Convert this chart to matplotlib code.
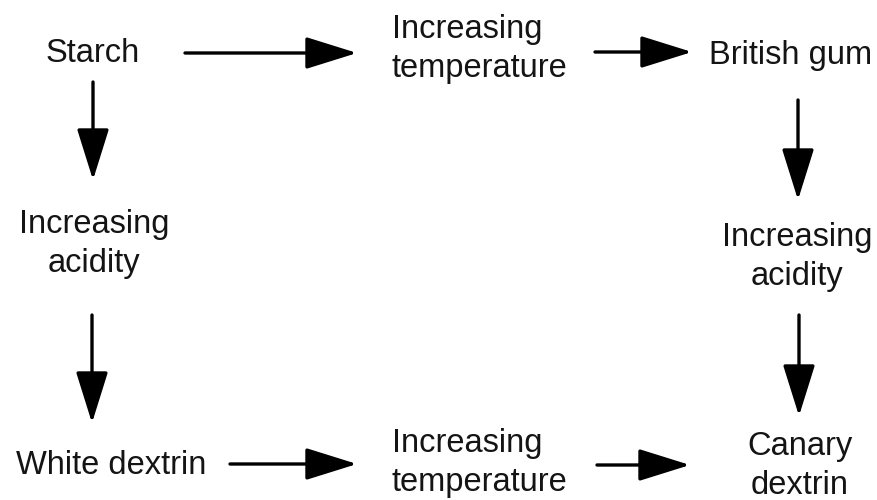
import matplotlib
matplotlib.use("Agg")
import matplotlib.pyplot as plt

# ---- data: node labels of the flow diagram ----
node_names = ["starch", "temp_top", "british", "acid_left", "acid_right",
              "white", "temp_bottom", "canary"]
node_labels = ["Starch", "Increasing\ntemperature", "British gum",
               "Increasing\nacidity", "Increasing\nacidity",
               "White dextrin", "Increasing\ntemperature", "Canary\ndextrin"]
# directed edges of the flow (from -> to)
edges = [("starch", "temp_top"), ("temp_top", "british"),
         ("starch", "acid_left"), ("british", "acid_right"),
         ("acid_left", "white"), ("acid_right", "canary"),
         ("white", "temp_bottom"), ("temp_bottom", "canary")]

# ---- layout (pixel coordinates, y downward; baseline of last line) ----
layout = {
    "starch":      (92.5, 62, "center"),
    "temp_top":    (392, 77, "left"),
    "british":     (791, 64, "center"),
    "acid_left":   (94, 272, "center"),
    "acid_right":  (797, 285, "center"),
    "white":       (111, 474, "center"),
    "temp_bottom": (392, 491, "left"),
    "canary":      (800, 494, "center"),
}
arrow_geom = {
    ("starch", "temp_top"):     ((185, 53), (357, 53)),
    ("temp_top", "british"):    ((595, 52), (692, 52)),
    ("starch", "acid_left"):    ((93, 82), (93, 180)),
    ("british", "acid_right"):  ((798, 100), (798, 200)),
    ("acid_left", "white"):     ((92, 315), (92, 423)),
    ("acid_right", "canary"):   ((799, 315), (799, 416)),
    ("white", "temp_bottom"):   ((230, 464), (357, 464)),
    ("temp_bottom", "canary"):  ((597, 465), (690, 465)),
}

W, H = 877, 500
fig = plt.figure(figsize=(W / 100, H / 100), dpi=100)
ax = fig.add_axes([0, 0, 1, 1])
ax.set_xlim(0, W)
ax.set_ylim(H, 0)
ax.axis("off")

for name, label in zip(node_names, node_labels):
    x, y, ha = layout[name]
    ax.text(x, y, label, ha=ha, va="baseline", multialignment=ha,
            fontsize=23.5, family=["Liberation Sans", "DejaVu Sans"],
            color="#141414", linespacing=1.33)

for e in edges:
    (x0, y0), (x1, y1) = arrow_geom[e]
    ax.annotate("", xy=(x1, y1), xytext=(x0, y0),
                arrowprops=dict(arrowstyle="-|>,head_length=32,head_width=10",
                                mutation_scale=1, lw=2.4, color="black",
                                shrinkA=0, shrinkB=0))

fig.savefig("out.png", dpi=100)
